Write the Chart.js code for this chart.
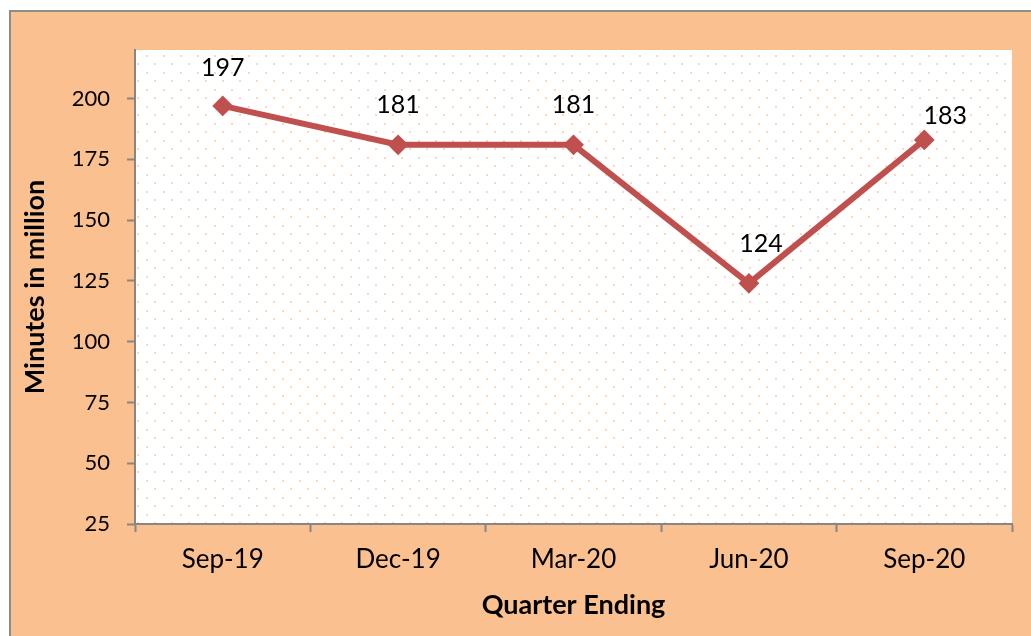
<!DOCTYPE html>
<html>
<head>
<meta charset="utf-8">
<script src="https://cdn.jsdelivr.net/npm/chart.js@4/dist/chart.umd.min.js"></script>
<style>
  html, body { margin: 0; padding: 0; background: #ffffff; }
  #wrap { position: absolute; left: 0; top: 0; width: 1031px; height: 636px; }
</style>
</head>
<body>
<div id="wrap"><canvas id="lineChart"></canvas></div>
<script>
// Données du graphique
const quarters = ['Sep-19', 'Dec-19', 'Mar-20', 'Jun-20', 'Sep-20'];
const minutes = [197, 181, 181, 124, 183];
const yTicks = [25, 50, 75, 100, 125, 150, 175, 200];

const lineColor = '#C0504D';
const peach = '#FAC090';
const axisGrey = '#868686';
const fontFamily = 'Lato, "Open Sans", sans-serif';

// Fond pêche + bordure grise du cadre
const frame = {
    id: 'frame',
    beforeDraw(chart) {
        const ctx = chart.ctx;
        ctx.save();
        ctx.fillStyle = peach;
        ctx.fillRect(10, 11, chart.width - 10, chart.height - 11);
        ctx.strokeStyle = '#8c8c8c';
        ctx.lineWidth = 2;
        ctx.beginPath();
        ctx.moveTo(10, chart.height);
        ctx.lineTo(10, 11);
        ctx.lineTo(chart.width, 11);
        ctx.stroke();

        // zone de tracé blanche à motif pointillé
        const a = chart.chartArea;
        ctx.fillStyle = '#ffffff';
        ctx.fillRect(a.left, a.top, a.right - a.left, a.bottom - a.top);
        const tile = document.createElement('canvas');
        tile.width = 17; tile.height = 17;
        const t = tile.getContext('2d');
        t.fillStyle = '#FBD8BC';
        t.fillRect(0, 0, 2, 2);
        t.fillRect(8, 8, 2, 2);
        const pat = ctx.createPattern(tile, 'repeat');
        ctx.translate(a.left + 11, a.top + 5);
        ctx.fillStyle = pat;
        ctx.fillRect(-11, -5, a.right - a.left, a.bottom - a.top);
        ctx.restore();
    }
};

// Étiquettes de valeur au-dessus des points
const labelShift = [[0, -38], [0, -40], [0, -40], [12, -39], [21, -24]];
const valueLabels = {
    id: 'valueLabels',
    afterDatasetsDraw(chart) {
        const ctx = chart.ctx;
        const meta = chart.getDatasetMeta(0);
        ctx.save();
        ctx.font = '25px ' + fontFamily;
        ctx.fillStyle = '#000000';
        ctx.textAlign = 'center';
        ctx.textBaseline = 'middle';
        meta.data.forEach((pt, i) => {
            const s = labelShift[i];
            ctx.fillText(String(minutes[i]), pt.x + s[0], pt.y + s[1]);
        });
        ctx.restore();
    }
};

const lineChart = new Chart(document.getElementById('lineChart'), {
    type: 'line',
    data: {
        labels: quarters,
        datasets: [{
            label: 'Minutes in million',
            data: minutes,
            borderColor: lineColor,
            backgroundColor: lineColor,
            borderWidth: 6,
            tension: 0,
            pointStyle: 'rectRot',
            pointRadius: 9,
            pointBorderWidth: 2,
            pointBackgroundColor: lineColor,
            pointBorderColor: lineColor
        }]
    },
    options: {
        responsive: true,
        maintainAspectRatio: false,
        animation: false,
        layout: { padding: { top: 50, right: 19, left: 0, bottom: 0 } },
        plugins: {
            legend: { display: false },
            tooltip: { enabled: false }
        },
        scales: {
            x: {
                offset: true,
                afterFit: s => { s.height = 112; },
                grid: {
                    offset: true,
                    drawOnChartArea: false,
                    tickLength: 8,
                    tickWidth: 2,
                    color: axisGrey
                },
                border: { color: axisGrey, width: 2 },
                ticks: {
                    color: '#000000',
                    padding: 12,
                    font: { family: fontFamily, size: 26 }
                },
                title: {
                    display: true,
                    text: 'Quarter Ending',
                    color: '#000000',
                    padding: { top: 0, bottom: 15 },
                    font: { family: fontFamily, size: 27, weight: 'bold' }
                }
            },
            y: {
                min: 25,
                max: 220,
                afterFit: s => { s.width = 135; },
                afterBuildTicks: s => { s.ticks = yTicks.map(v => ({ value: v })); },
                grid: {
                    drawOnChartArea: false,
                    tickLength: 8,
                    tickWidth: 2,
                    color: axisGrey
                },
                border: { color: axisGrey, width: 2 },
                ticks: {
                    color: '#000000',
                    padding: 17,
                    font: { family: fontFamily, size: 22 }
                },
                title: {
                    display: true,
                    text: 'Minutes in million',
                    color: '#000000',
                    padding: { top: 19, bottom: 0 },
                    font: { family: fontFamily, size: 27, weight: 'bold' }
                }
            }
        }
    },
    plugins: [frame, valueLabels]
});
</script>
</body>
</html>
